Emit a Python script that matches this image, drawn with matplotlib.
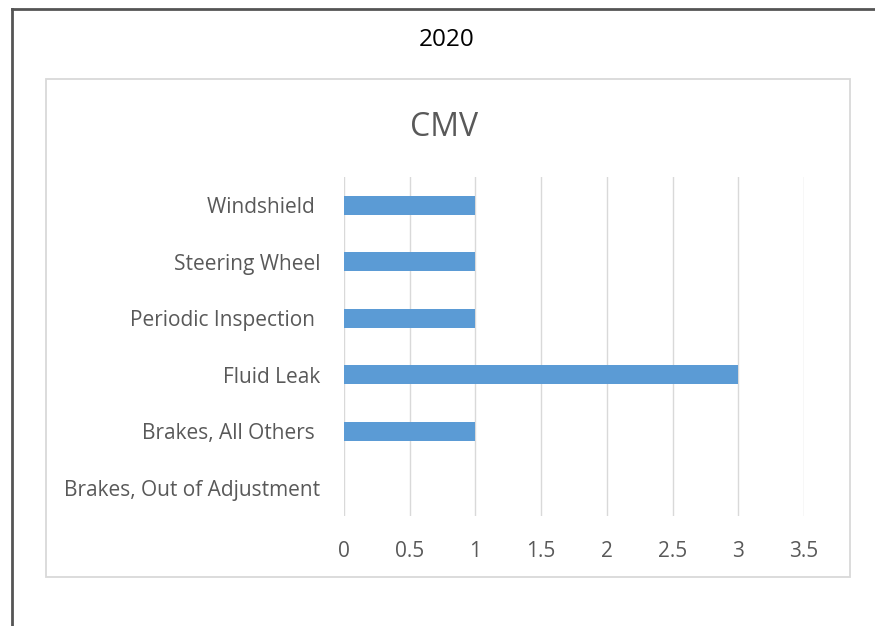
import matplotlib
matplotlib.use("Agg")
import matplotlib.pyplot as plt
from matplotlib.lines import Line2D
from matplotlib.patches import Rectangle

categories = ["Brakes, Out of Adjustment", "Brakes, All Others ", "Fluid Leak",
              "Periodic Inspection ", "Steering Wheel", "Windshield "]
counts = [0, 1, 3, 1, 1, 1]
xticks = [0, 0.5, 1, 1.5, 2, 2.5, 3, 3.5]
xticklabels = ["0", "0.5", "1", "1.5", "2", "2.5", "3", "3.5"]

plt.rcParams['font.family'] = ['Open Sans', 'DejaVu Sans']
grey = "#595959"

fig = plt.figure(figsize=(8.75, 6.26), dpi=100)
W, H = 875, 626

# outer frame (left and top edges only)
fig.add_artist(Line2D([11.5 / W, 11.5 / W], [0, 1 - 9 / H], transform=fig.transFigure,
                      color="#555555", lw=2))
fig.add_artist(Line2D([11.5 / W, 1], [1 - 9 / H, 1 - 9 / H], transform=fig.transFigure,
                      color="#555555", lw=2))
# chart box
fig.add_artist(Rectangle((46 / W, 1 - 577 / H), (850 - 46) / W, (577 - 79) / H,
                         transform=fig.transFigure, fill=False, ec="#D9D9D9", lw=1.3))

fig.text(447 / W, 1 - 40 / H, "2020", ha="center", va="center", fontsize=17.5, color="black")
fig.text(444 / W, 1 - 128 / H, "CMV", ha="center", va="center", fontsize=23, color=grey)

ax = fig.add_axes([344 / W, 1 - 516 / H, 460 / W, 339 / H])
ypos = list(range(len(categories)))
ax.barh(ypos, counts, height=0.34, color="#5B9BD5", zorder=3)
ax.set_xlim(0, 3.5)
ax.set_ylim(-0.5, len(categories) - 0.5)
ax.set_xticks(xticks)
ax.set_xticklabels(xticklabels)
ax.set_yticks(ypos)
ax.set_yticklabels(categories)
ax.grid(axis="x", color="#D9D9D9", lw=1, zorder=0)
for s in ax.spines.values():
    s.set_visible(False)
ax.tick_params(axis="both", length=0, labelsize=15, colors=grey)
ax.tick_params(axis="x", pad=18)
ax.tick_params(axis="y", pad=17)

fig.savefig("out.png", dpi=100)
